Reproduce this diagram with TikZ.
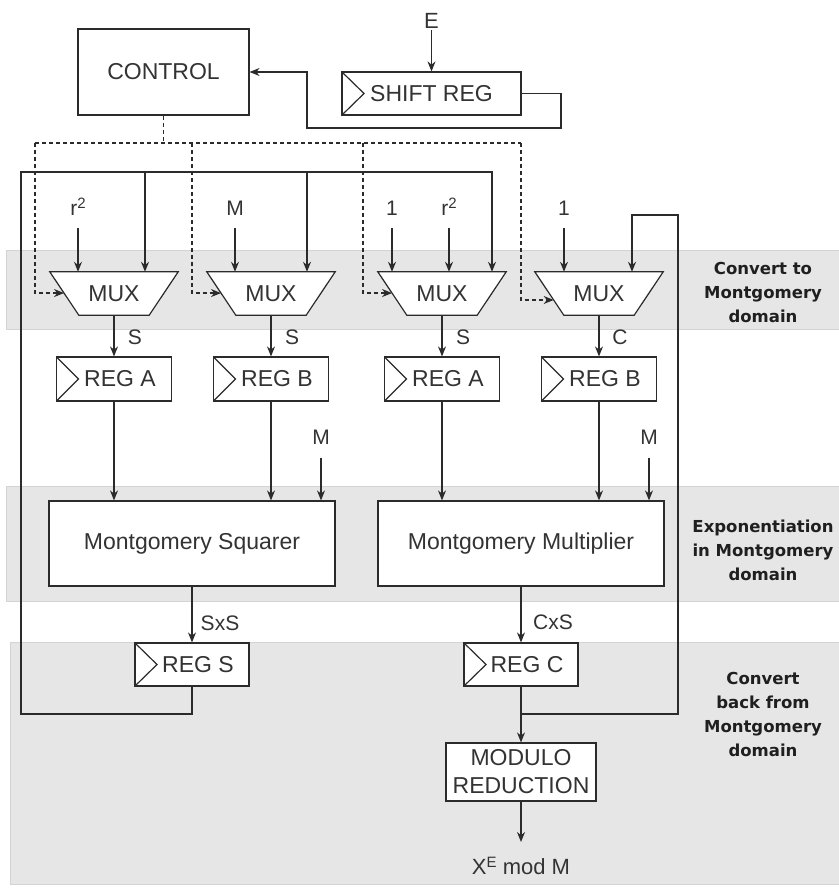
\documentclass[tikz,border=0pt]{standalone}
\usepackage{fontspec}
\setmainfont{Liberation Sans}
\newfontfamily\bandfamily{DejaVu Sans}
\usetikzlibrary{arrows.meta,calc}
\definecolor{linec}{HTML}{2B2B2B}
\definecolor{textc}{HTML}{333333}
\definecolor{bandfill}{HTML}{E6E6E6}
\definecolor{bandline}{HTML}{D3D3D3}
\newcommand{\boxfont}{\fontsize{23}{28}\selectfont}
\newcommand{\lblfont}{\fontsize{21}{25}\selectfont}
\newcommand{\bandfont}{\bandfamily\bfseries\fontsize{16.5}{24}\selectfont}
\newcommand{\upidx}[1]{\raisebox{7pt}{\fontsize{15}{15}\selectfont #1}}
\begin{document}
\begin{tikzpicture}[x=1pt,y=-1pt,
  wire/.style={draw=linec,line width=1.2pt},
  arr/.style={wire,-{Stealth[length=10pt,width=8pt]}},
  ctrlline/.style={wire,dash pattern=on 4pt off 3pt},
  ctrlarr/.style={ctrlline,-{Stealth[length=10pt,width=8pt]}},
  band/.style={fill=bandfill,draw=bandline,line width=1pt},
  bandlabel/.style={text=black!88,font=\bandfont,align=center,inner sep=0pt},
  box/.style={draw=linec,line width=1.2pt,fill=white,text=textc,font=\boxfont,inner sep=0pt},
  reg/.style={box,minimum height=44pt,path picture={\draw[linec,line width=1.2pt]
      (path picture bounding box.north west) -- ([xshift=22pt]path picture bounding box.west)
      -- (path picture bounding box.south west);}},
  regshift/.style={execute at begin node={\hspace*{12pt}}},
  muxframe/.style={minimum width=128pt,minimum height=43pt,inner sep=0pt},
  muxtext/.style={text=textc,font=\boxfont,inner sep=0pt},
  lbl/.style={text=textc,font=\lblfont,inner sep=0pt},
]
\useasboundingbox (0,0) rectangle (838,893);

% shaded stages
\path[band] (6,250) rectangle (850,329);
\path[band] (6,486) rectangle (850,601);
\path[band] (10,642) rectangle (850,884);
\node[bandlabel] (lb1) at (763,292) {Convert to\\Montgomery\\domain};
\node[bandlabel] (lb2) at (763,550) {Exponentiation\\in Montgomery\\domain};
\node[bandlabel] (lb3) at (763,714.5) {Convert\\back from\\Montgomery\\domain};

% control and exponent register
\node[box,minimum width=171pt,minimum height=86pt] (ctl) at (163.5,72) {CONTROL};
\node[reg,minimum width=179pt,minimum height=43pt] (sr) at (431.5,93.5) {SHIFT REG};
\node[lbl,font=\fontsize{22}{26}\selectfont] (e) at (431.5,21) {E};

% multiplexers
\node[muxframe] (m1) at (114,293.5) {};
\node[muxframe] (m2) at (271,293.5) {};
\node[muxframe] (m3) at (442,293.5) {};
\node[muxframe] (m4) at (599,293.5) {};
\foreach \m in {m1,m2,m3,m4}
  \draw[wire,fill=white] (\m.north west) -- (\m.north east)
    -- ([xshift=-29pt]\m.south east) -- ([xshift=29pt]\m.south west) -- cycle;
\node[muxtext] (m1t) at (m1) {MUX};
\node[muxtext] (m2t) at (m2) {MUX};
\node[muxtext] (m3t) at (m3) {MUX};
\node[muxtext] (m4t) at (m4) {MUX};

% operand registers
\node[reg,regshift,minimum width=115pt] (ra1) at (114,379) {REG A};
\node[reg,regshift,minimum width=115pt] (rb2) at (271,379) {REG B};
\node[reg,regshift,minimum width=115pt] (ra3) at (442,379) {REG A};
\node[reg,regshift,minimum width=115pt] (rb4) at (599,379) {REG B};

% arithmetic units
\node[box,minimum width=286pt,minimum height=85pt] (sq) at (192,543.5) {Montgomery Squarer};
\node[box,minimum width=286pt,minimum height=85pt] (mul) at (521,543.5) {Montgomery Multiplier};

% result registers and final reduction
\node[reg,regshift,minimum width=114pt,minimum height=43pt] (rs) at (192,664.5) {REG S};
\node[reg,regshift,minimum width=114pt,minimum height=43pt] (rc) at (521,664.5) {REG C};
\node[box,align=center,minimum width=150pt,minimum height=58pt] (mod) at (521,772) {MODULO\\REDUCTION};
\node[lbl,font=\fontsize{22}{26}\selectfont,anchor=base] (xe) at (521,874) {X\upidx{E} mod M};

% input labels
\node[lbl,anchor=base] (l1) at (78,215.5) {r\upidx{2}};
\node[lbl,anchor=base] (l2) at (235,215.5) {M};
\node[lbl,anchor=base] (l3) at (392,215.5) {1};
\node[lbl,anchor=base] (l4) at (449,215.5) {r\upidx{2}};
\node[lbl,anchor=base] (l5) at (564,215.5) {1};
\node[lbl,anchor=base] (mA) at (321,444.5) {M};
\node[lbl,anchor=base] (mB) at (649,444.5) {M};

% signal names
\node[lbl] (s1) at (135,337) {S};
\node[lbl] (s2) at (292,337) {S};
\node[lbl] (s3) at (463,337) {S};
\node[lbl] (c4) at (620,337) {C};
\node[lbl] (sxs) at (220,623) {SxS};
\node[lbl] (cxs) at (553,622) {CxS};

% exponent path
\draw[arr] ([yshift=-9pt]e.center) -- (sr.north);
\coordinate (srA) at (561,128);
\coordinate (srB) at (307,128);
\draw[arr] (sr.east) -| (srA) -- (srB) |- (ctl.east);

% select lines from the controller
\coordinate (cb) at (163.5,143);
\coordinate (cL) at (35,143);
\coordinate (d2) at (192,143);
\coordinate (d3) at (363,143);
\coordinate (cR) at (521,143);
\coordinate (t1) at ($(m1.north west)!0.49!([xshift=29pt]m1.south west)$);
\coordinate (t2) at ($(m2.north west)!0.49!([xshift=29pt]m2.south west)$);
\coordinate (t3) at ($(m3.north west)!0.49!([xshift=29pt]m3.south west)$);
\coordinate (t4) at ($(m4.north west)!0.65!([xshift=29pt]m4.south west)$);
\draw[ctrlline] (ctl.south) -- (cb);
\draw[ctrlline] (cL) -- (cR);
\draw[ctrlarr] (cL) |- (t1);
\draw[ctrlarr] (d2) |- (t2);
\draw[ctrlarr] (d3) |- (t3);
\draw[ctrlarr] (cR) |- (t4);

% constant inputs
\draw[arr] ([yshift=-12.5pt]l1.base) -- (l1.base |- m1.north);
\draw[arr] ([yshift=-12.5pt]l2.base) -- (l2.base |- m2.north);
\draw[arr] ([yshift=-12.5pt]l3.base) -- (l3.base |- m3.north);
\draw[arr] ([yshift=-12.5pt]l4.base) -- (l4.base |- m3.north);
\draw[arr] ([yshift=-12.5pt]l5.base) -- (l5.base |- m4.north);

% squarer feedback
\coordinate (fL) at (21,714);
\coordinate (fT) at (492,172);
\coordinate (f1) at (145,172);
\coordinate (f2) at (307,172);
\draw[arr] (rs.south) |- (fL) |- (fT) -- (fT |- m3.north);
\draw[arr] (f1) -- (f1 |- m1.north);
\draw[arr] (f2) -- (f2 |- m2.north);

% multiplexers to registers
\draw[arr] (m1.south) -- (ra1.north);
\draw[arr] (m2.south) -- (rb2.north);
\draw[arr] (m3.south) -- (ra3.north);
\draw[arr] (m4.south) -- (rb4.north);

% registers to arithmetic units
\draw[arr] (ra1.south) -- (ra1.south |- sq.north);
\draw[arr] (rb2.south) -- (rb2.south |- sq.north);
\draw[arr] (ra3.south) -- (ra3.south |- mul.north);
\draw[arr] (rb4.south) -- (rb4.south |- mul.north);
\draw[arr] ([yshift=-13.5pt]mA.base) -- (mA.base |- sq.north);
\draw[arr] ([yshift=-13.5pt]mB.base) -- (mB.base |- mul.north);

% results
\draw[arr] (sq.south) -- (rs.north);
\draw[arr] (mul.south) -- (rc.north);
\draw[arr] (rc.south) -- (mod.north);
\coordinate (jc) at (521,714);
\coordinate (lR) at (678,215);
\coordinate (lT) at (632,215);
\draw[arr] (jc) -| (lR) -- (lT) -- (lT |- m4.north);
\draw[arr] (mod.south) -- ([yshift=32pt]xe.base);
\end{tikzpicture}
\end{document}
